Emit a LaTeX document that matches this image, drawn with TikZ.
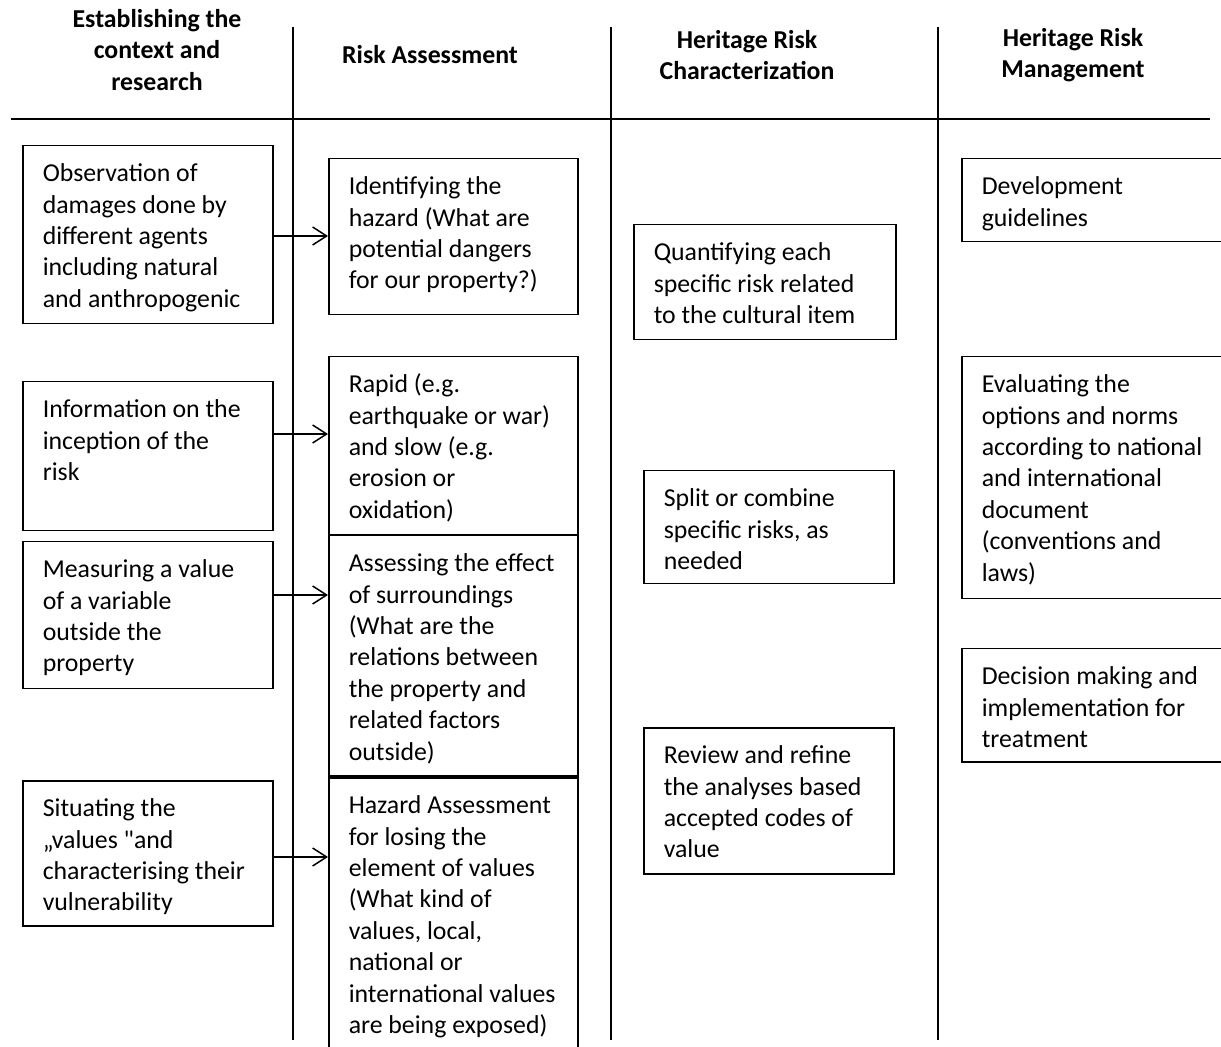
\documentclass[tikz,border=0pt]{standalone}
\usepackage{fontspec}
\setmainfont{Carlito}
\newfontfamily\quotefont{Carlito}
\usetikzlibrary{arrows.meta}
\newcommand{\diagfont}{\fontsize{12.9}{15.7}\selectfont}
\newcommand{\panel}[6]{%
  \node[box] (#1) at (#2,#3)
    {\parbox[c][\dimexpr#5pt/2\relax][t]{\dimexpr#4pt/2\relax}{%
      \raggedright\leftskip=10pt\vspace*{7pt}\strut#6}};}
\tikzset{
  box/.style={draw, line width=0.75pt, anchor=north west, inner sep=0pt, font=\diagfont},
  head/.style={align=center, font=\diagfont\bfseries},
  sep/.style={line width=1.25pt},
  link/.style={line width=0.75pt, -{Straight Barb[length=7pt,width=9pt]}},
}

\begin{document}
\begin{tikzpicture}[x=0.5pt,y=-0.5pt]
\useasboundingbox (0,0) rectangle (1221,1047);
% column titles
\node[head] (h1) at (157,50) {Establishing the\\context and\\research};
\node[head] (h2) at (430,55) {Risk Assessment};
\node[head] (h3) at (747,55) {Heritage Risk\\Characterization};
\node[head] (h4) at (1073,55) {Heritage Risk\\Management};
\draw[sep] (11,119) -- (1210,119);
\foreach \x in {293,611,938}
  \draw[sep] (\x,27) -- (\x,1040);
% context and research
\panel{obs}{22}{145}{250}{178}{Observation of\\damages done by\\different agents\\including natural\\and anthropogenic}
\panel{info}{22}{381}{250}{149}{Information on the\\inception of the\\risk}
\panel{meas}{22}{541}{250}{147}{Measuring a value\\of a variable\\outside the\\property}
\panel{sit}{22}{780}{250}{145}{Situating the\\„values {\quotefont"}and\\characterising their\\vulnerability}
% risk assessment
\panel{ident}{328}{158}{249}{156}{Identifying the\\hazard (What are\\potential dangers\\for our property?)}
\panel{rapid}{328}{356}{249}{178}{Rapid (e.g.\\earthquake or war)\\and slow (e.g.\\erosion or\\oxidation)}
\panel{assess}{328}{535}{249}{240}{Assessing the effect\\of surroundings\\(What are the\\relations between\\the property and\\related factors\\outside)}
\panel{hazard}{328}{777}{249}{300}{Hazard Assessment\\for losing the\\element of values\\(What kind of\\values, local,\\national or\\international values\\are being exposed)}
% characterization
\panel{quant}{633}{224}{262}{115}{Quantifying each\\specific risk related\\to the cultural item}
\panel{split}{643}{470}{250}{113}{Split or combine\\specific risks, as\\needed}
\panel{review}{643}{727}{250}{146}{Review and refine\\the analyses based\\accepted codes of\\value}
% management
\panel{devel}{961}{158}{300}{83}{Development\\guidelines}
\panel{evalu}{961}{356}{300}{242}{Evaluating the\\options and norms\\according to national\\and international\\document\\(conventions and\\laws)}
\panel{decis}{961}{648}{300}{113}{Decision making and\\implementation for\\treatment}
% arrows
\draw[link] (obs.east |- 0,236) -- (ident.west |- 0,236);
\draw[link] (info.east |- 0,434) -- (rapid.west |- 0,434);
\draw[link] (meas.east |- 0,595) -- (assess.west |- 0,595);
\draw[link] (sit.east |- 0,857) -- (hazard.west |- 0,857);
\end{tikzpicture}
\end{document}
